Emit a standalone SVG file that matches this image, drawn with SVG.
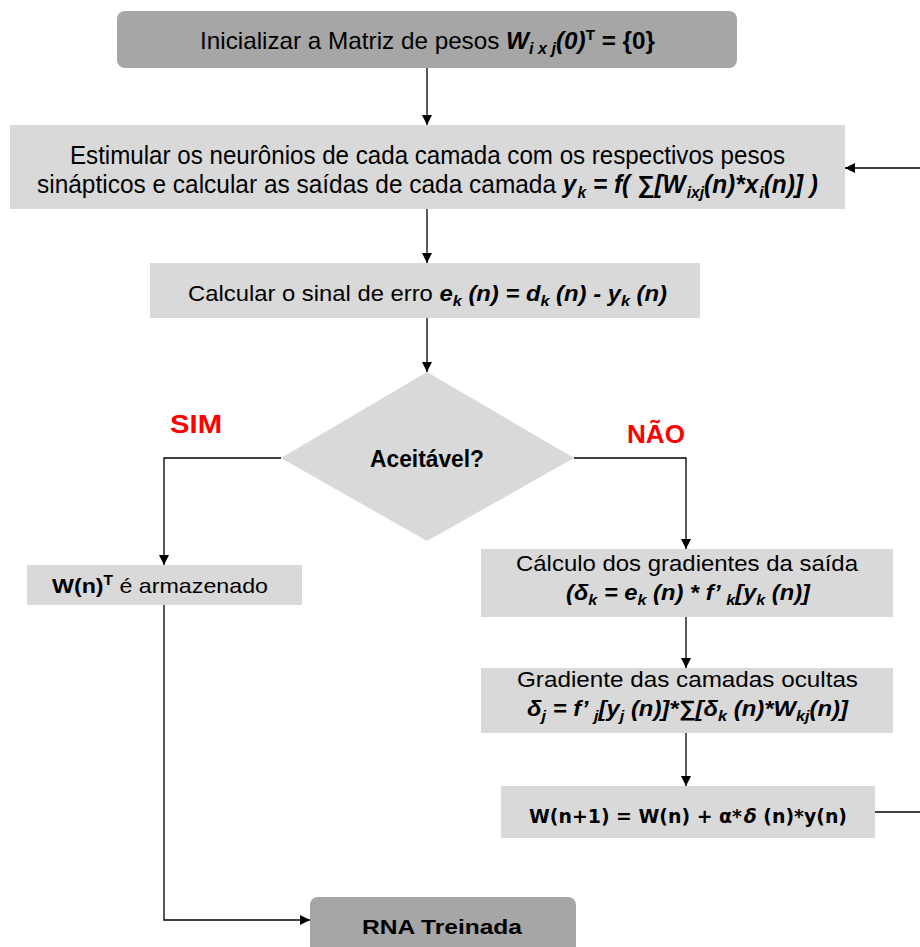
<svg xmlns="http://www.w3.org/2000/svg" width="920" height="947" viewBox="0 0 920 947">
  <defs>
    <marker id="arrow" viewBox="0 0 10 10" refX="10" refY="5" markerWidth="10" markerHeight="10" markerUnits="userSpaceOnUse" orient="auto">
      <path d="M0,0 L10,5 L0,10 z" fill="#000"/>
    </marker>
    <style>
      .dark { fill: #a6a6a6; }
      .light { fill: #d9d9d9; }
      .t { font-family: "Liberation Sans", Arial, sans-serif; fill: #000; }
      .narrow { font-family: "Liberation Sans Narrow", "Liberation Sans", Arial, sans-serif; }
      .bi { font-weight: bold; font-style: italic; }
      .b { font-weight: bold; }
      .red { fill: #ff0000; font-weight: bold; }
      .vb { font-family: "DejaVu Sans", Verdana, sans-serif; font-weight: bold; }
      .conn { fill: none; stroke: #000; stroke-width: 1.3; }
    </style>
  </defs>

  <!-- connectors -->
  <g id="connectors" class="conn">
    <path d="M427,68 V125" marker-end="url(#arrow)"/>
    <path d="M427,209 V263" marker-end="url(#arrow)"/>
    <path d="M427,318 V372" marker-end="url(#arrow)"/>
    <path d="M281,458 H164 V565" marker-end="url(#arrow)"/>
    <path d="M574,458 H686 V549" marker-end="url(#arrow)"/>
    <path d="M686,617 V668" marker-end="url(#arrow)"/>
    <path d="M686,733 V786" marker-end="url(#arrow)"/>
    <path d="M164,605 V920 H310" marker-end="url(#arrow)"/>
    <path d="M875,812 H920"/>
    <path d="M920,168 H845" marker-end="url(#arrow)"/>
  </g>

  <!-- start -->
  <g id="init">
    <rect class="dark" x="117" y="11" width="620" height="57" rx="8"/>
    <text class="t narrow" x="200" y="49" font-size="24" textLength="455" lengthAdjust="spacingAndGlyphs">Inicializar a Matriz de pesos <tspan class="bi">W</tspan><tspan class="bi" font-size="16" dy="5">i x j</tspan><tspan class="bi" dy="-5">(0)</tspan><tspan class="b" font-size="15" dy="-9">T</tspan><tspan class="b" dy="9"> = {0}</tspan></text>
  </g>

  <!-- forward pass -->
  <g id="forward">
    <rect class="light" x="10" y="125" width="835" height="84"/>
    <text class="t narrow" x="70" y="164" font-size="25" textLength="715" lengthAdjust="spacingAndGlyphs">Estimular os neurônios de cada camada com os respectivos pesos</text>
    <text class="t narrow" x="37" y="193" font-size="25" textLength="781" lengthAdjust="spacingAndGlyphs">sinápticos e calcular as saídas de cada camada  <tspan class="bi">y</tspan><tspan class="bi" font-size="16" dx="1" dy="5">k</tspan><tspan class="bi" dy="-5"> = f( ∑[W</tspan><tspan class="bi" font-size="16" dx="1" dy="5">ixj</tspan><tspan class="bi" dy="-5">(n)*x</tspan><tspan class="bi" font-size="16" dx="1" dy="5">i</tspan><tspan class="bi" dy="-5">(n)] )</tspan></text>
  </g>

  <!-- error -->
  <g id="error">
    <rect class="light" x="150" y="263" width="550" height="55"/>
    <text class="t" x="188" y="301" font-size="22" textLength="479" lengthAdjust="spacingAndGlyphs">Calcular o sinal de erro <tspan class="bi">e</tspan><tspan class="bi" font-size="15" dy="5">k</tspan><tspan class="bi" dy="-5"> (n) = d</tspan><tspan class="bi" font-size="15" dy="5">k</tspan><tspan class="bi" dy="-5"> (n) - y</tspan><tspan class="bi" font-size="15" dy="5">k</tspan><tspan class="bi" dy="-5"> (n)</tspan></text>
  </g>

  <!-- decision -->
  <g id="decision">
    <polygon class="light" points="427,372 574,458 427,541 281,458"/>
    <text class="t narrow b" x="370" y="467" font-size="23" textLength="114" lengthAdjust="spacingAndGlyphs">Aceitável?</text>
  </g>

  <g id="label-sim">
    <text class="t narrow red" x="170" y="433" font-size="25" textLength="52" lengthAdjust="spacingAndGlyphs">SIM</text>
  </g>
  <g id="label-nao">
    <text class="t narrow red" x="627" y="443" font-size="25" textLength="58" lengthAdjust="spacingAndGlyphs">NÃO</text>
  </g>

  <!-- store weights -->
  <g id="store">
    <rect class="light" x="27" y="565" width="275" height="40"/>
    <text class="t" x="52" y="593" font-size="21" textLength="216" lengthAdjust="spacingAndGlyphs"><tspan class="b">W(n)</tspan><tspan class="b" font-size="14" dy="-8">T</tspan><tspan dy="8"> é armazenado</tspan></text>
  </g>

  <!-- output gradients -->
  <g id="grad-out">
    <rect class="light" x="481" y="549" width="412" height="68"/>
    <text class="t" x="516" y="571" font-size="22" textLength="342" lengthAdjust="spacingAndGlyphs">Cálculo dos gradientes da saída</text>
    <text class="t bi" x="566" y="600" font-size="22" textLength="244" lengthAdjust="spacingAndGlyphs">(δ<tspan font-size="15" dy="5">k</tspan><tspan dy="-5"> = e</tspan><tspan font-size="15" dy="5">k</tspan><tspan dy="-5"> (n) * f’ </tspan><tspan font-size="15" dy="5">k</tspan><tspan dy="-5">[y</tspan><tspan font-size="15" dy="5">k</tspan><tspan dy="-5"> (n)]</tspan></text>
  </g>

  <!-- hidden gradients -->
  <g id="grad-hidden">
    <rect class="light" x="481" y="668" width="412" height="65"/>
    <text class="t" x="517" y="687" font-size="22" textLength="341" lengthAdjust="spacingAndGlyphs">Gradiente das camadas ocultas</text>
    <text class="t bi" x="527" y="716" font-size="22" textLength="321" lengthAdjust="spacingAndGlyphs">δ<tspan font-size="15" dy="5">j</tspan><tspan dy="-5"> = f’ </tspan><tspan font-size="15" dy="5">j</tspan><tspan dy="-5">[y</tspan><tspan font-size="15" dy="5">j</tspan><tspan dy="-5"> (n)]*∑[δ</tspan><tspan font-size="15" dy="5">k</tspan><tspan dy="-5"> (n)*W</tspan><tspan font-size="15" dy="5">kj</tspan><tspan dy="-5">(n)]</tspan></text>
  </g>

  <!-- weight update -->
  <g id="update">
    <rect class="light" x="501" y="786" width="374" height="52"/>
    <text class="t vb" x="529" y="823" font-size="20" textLength="318" lengthAdjust="spacingAndGlyphs">W(n+1) = W(n) + α*<tspan font-style="italic" dx="2">δ</tspan> (n)*y(n)</text>
  </g>

  <!-- end -->
  <g id="trained">
    <rect class="dark" x="310" y="897" width="266" height="70" rx="8"/>
    <text class="t b" x="362" y="934" font-size="21" textLength="160" lengthAdjust="spacingAndGlyphs">RNA Treinada</text>
  </g>
</svg>
